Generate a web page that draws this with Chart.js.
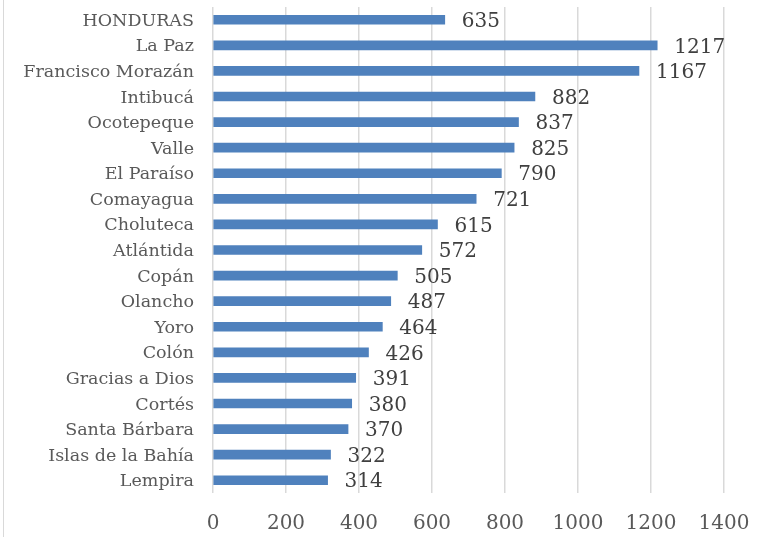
<!DOCTYPE html>
<html>
<head>
<meta charset="utf-8">
<script src="https://cdn.jsdelivr.net/npm/chart.js@4/dist/chart.umd.min.js"></script>
<style>
html,body{margin:0;padding:0;background:#fff;}
#wrap{position:relative;width:766px;height:537px;}
#frame{position:absolute;left:3px;top:0;width:1px;height:537px;background:#d9d9d9;}
canvas{position:absolute;left:0;top:0;}
</style>
</head>
<body>
<div id="wrap"><canvas id="c" width="766" height="537"></canvas><div id="frame"></div></div>
<script>
const categories = ["HONDURAS","La Paz","Francisco Morazán","Intibucá","Ocotepeque","Valle","El Paraíso","Comayagua","Choluteca","Atlántida","Copán","Olancho","Yoro","Colón","Gracias a Dios","Cortés","Santa Bárbara","Islas de la Bahía","Lempira"];
const values = [635,1217,1167,882,837,825,790,721,615,572,505,487,464,426,391,380,370,322,314];
const xTicks = [0,200,400,600,800,1000,1200,1400];

const FONT = "'DejaVu Serif', serif";

const valueLabels = {
  id: 'valueLabels',
  afterDatasetsDraw(chart) {
    const ctx = chart.ctx;
    const meta = chart.getDatasetMeta(0);
    ctx.save();
    ctx.font = "20px " + FONT;
    ctx.fillStyle = '#404040';
    ctx.textAlign = 'left';
    ctx.textBaseline = 'middle';
    meta.data.forEach((bar, i) => {
      ctx.fillText(String(values[i]), bar.x + 17, bar.y + 2);
    });
    ctx.restore();
  }
};

new Chart(document.getElementById('c'), {
  type: 'bar',
  data: {
    labels: categories,
    datasets: [{
      data: values,
      backgroundColor: '#4f81bd',
      borderWidth: 0,
      barThickness: 9
    }]
  },
  options: {
    indexAxis: 'y',
    responsive: false,
    animation: false,
    devicePixelRatio: 1,
    layout: { padding: { left: 0, right: 42, top: 7, bottom: 0 } },
    plugins: { legend: { display: false }, tooltip: { enabled: false } },
    scales: {
      x: {
        min: 0, max: 1400,
        afterBuildTicks(scale) { scale.ticks = xTicks.map(v => ({ value: v })); },
        afterFit(scale) { scale.height = 44; scale.paddingLeft = 0; scale.paddingRight = 0; },
        grid: { color: '#d9d9d9', lineWidth: 1.5, drawTicks: false },
        border: { display: false },
        ticks: { color: '#595959', font: { family: FONT, size: 20 }, padding: 19, callback: v => String(v) }
      },
      y: {
        afterFit(scale) { scale.width = 213; scale.paddingTop = 0; scale.paddingBottom = 0; },
        grid: { display: false, drawTicks: false },
        border: { display: false },
        ticks: { color: '#595959', font: { family: FONT, size: 17.5 }, padding: 19, autoSkip: false, labelOffset: 1.5 }
      }
    }
  },
  plugins: [valueLabels]
});
</script>
</body>
</html>
